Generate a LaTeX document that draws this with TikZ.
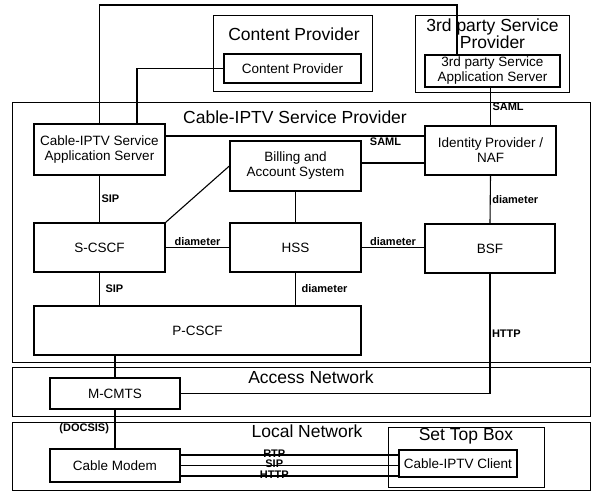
\documentclass[tikz,border=0pt]{standalone}
\usepackage{fontspec}
\setmainfont{Liberation Sans}
\begin{document}
\begin{tikzpicture}[x=1pt,y=-1pt,
  box/.style={draw, line width=1.3pt, align=center, inner sep=0pt, font=\fontsize{13.5}{15}\selectfont},
  cont/.style={draw, line width=1pt},
  ttl/.style={font=\fontsize{17.5}{17}\selectfont, align=center, inner sep=0pt},
  lbl/.style={font=\bfseries\fontsize{11}{12}\selectfont, inner sep=1.5pt},
  conn/.style={line width=1.1pt}]
\useasboundingbox[fill=white] (0,0) rectangle (592,492);
% containers
\draw[cont] (213,16) rectangle (372,92);
\node[ttl] (cpTitle) at (294,34) {Content Provider};
\draw[cont] (415,16) rectangle (569,93);
\node[ttl] (tpTitle) at (492.5,34) {3rd party Service\\Provider};
\draw[cont] (12,103) rectangle (590,362);
\node[ttl] (spTitle) at (295,117.5) {Cable-IPTV Service Provider};
\draw[cont] (12,367) rectangle (590,416);
\node[ttl] (anTitle) at (311,377.5) {Access Network};
\draw[cont] (12,422) rectangle (590,490);
\node[ttl] (lnTitle) at (307,431) {Local Network};
\draw[cont] (388,427) rectangle (544,487);
\node[ttl] (stbTitle) at (466,436.5) {Set Top Box};
% boxes
\node[box, minimum width=137pt, minimum height=29pt] (cpInner) at (292.5,68.5) {Content Provider};
\node[box, minimum width=135pt, minimum height=32pt] (tpInner) at (492.5,71) {3rd party Service\\Application Server};
\node[box, minimum width=131pt, minimum height=51pt] (appSrv) at (99.5,149.5) {Cable-IPTV Service\\Application Server};
\node[box, minimum width=131pt, minimum height=50pt] (billing) at (295.5,166) {Billing and\\Account System};
\node[box, minimum width=131pt, minimum height=49pt] (idp) at (490.5,150.5) {Identity Provider /\\NAF};
\node[box, minimum width=131pt, minimum height=49pt] (scscf) at (99.5,247.5) {S-CSCF};
\node[box, minimum width=131pt, minimum height=49pt] (hss) at (295.5,247.5) {HSS};
\node[box, minimum width=130pt, minimum height=49pt] (bsf) at (490,248.5) {BSF};
\node[box, minimum width=327pt, minimum height=49pt] (pcscf) at (197.5,330.5) {P-CSCF};
\node[box, minimum width=130pt, minimum height=31pt] (mcmts) at (115,393.5) {M-CMTS};
\node[box, minimum width=130pt, minimum height=33pt] (modem) at (115,465.5) {Cable Modem};
\node[box, minimum width=118pt, minimum height=27pt] (client) at (458,463.5) {Cable-IPTV Client};
% connectors
\coordinate (topR) at (457,5);
\draw[conn] (appSrv.north) |- (topR) -- (topR |- tpInner.north);
\draw[conn] (cpInner.west) -| ([xshift=37.5pt]appSrv.north);
\draw[conn] (idp.north |- tpInner.south) -- node[lbl, right] {SAML} (idp.north);
\draw[conn] ([yshift=13.5pt]appSrv.east) -- node[lbl, below, pos=0.85] {SAML} ([yshift=13.5pt]appSrv.east -| idp.west);
\draw[conn] ([yshift=3pt]billing.east) -- ([yshift=3pt]billing.east -| idp.west);
\draw[conn] (appSrv.south) -- node[lbl, right] {SIP} (scscf.north);
\draw[conn] (scscf.north east) -- (billing.west);
\draw[conn] (scscf.east) -- node[lbl, above] {diameter} (hss.west);
\draw[conn] (billing.south) -- (hss.north);
\draw[conn] (hss.east) -- node[lbl, above] {diameter} (hss.east -| bsf.west);
\draw[conn] (idp.south) -- node[lbl, right] {diameter} (bsf.north);
\draw[conn] (scscf.south) -- node[lbl, right, xshift=4pt] {SIP} (scscf.south |- pcscf.north);
\draw[conn] (hss.south) -- node[lbl, right, xshift=4pt] {diameter} (hss.south |- pcscf.north);
\draw[conn] (bsf.south) |- node[lbl, right, pos=0.25] {HTTP} (mcmts.east);
\draw[conn] (mcmts.north |- pcscf.south) -- (mcmts.north);
\draw[conn] (mcmts.south) -- node[lbl, left, xshift=-4pt] {(DOCSIS)} (modem.north);
\draw[conn] ([yshift=10.5pt]modem.east) -- node[lbl, above, pos=0.43, inner sep=0pt, yshift=-3pt] {RTP} ([yshift=10.5pt]modem.east -| client.west);
\draw[conn] (modem.east) -- node[lbl, above, pos=0.43, inner sep=0pt, yshift=-3pt] {SIP} (modem.east -| client.west);
\draw[conn] ([yshift=-10.5pt]modem.east) -- node[lbl, above, pos=0.43, inner sep=0pt, yshift=-3pt] {HTTP} ([yshift=-10.5pt]modem.east -| client.west);
\end{tikzpicture}
\end{document}
